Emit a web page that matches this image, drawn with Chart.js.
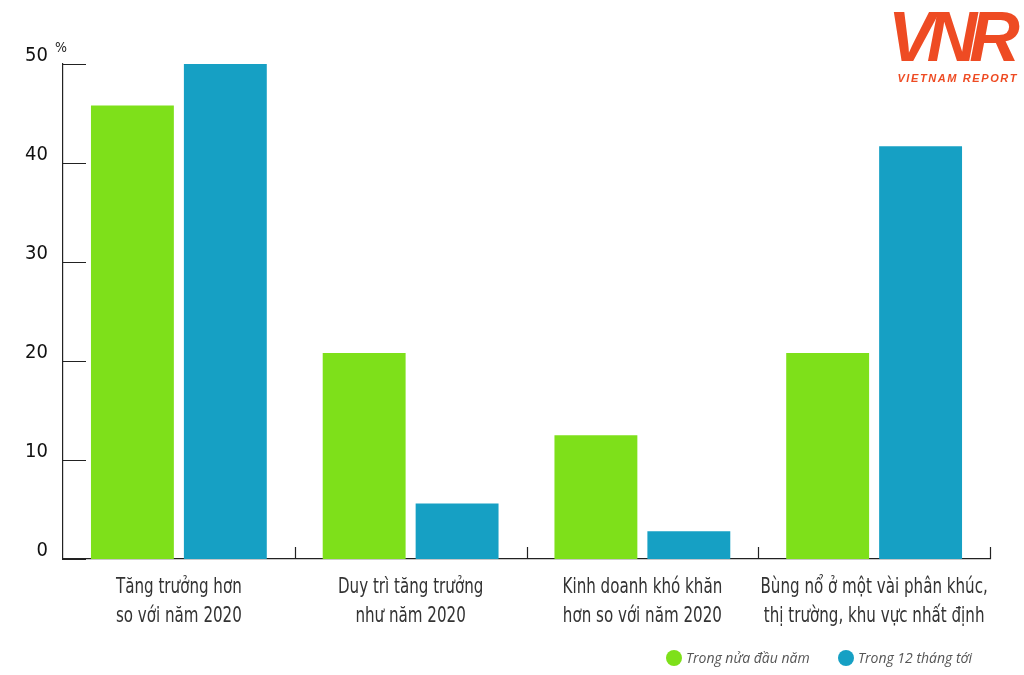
<!DOCTYPE html>
<html lang="vi">
<head>
<meta charset="utf-8">
<title>Triển vọng tăng trưởng</title>
<script src="https://cdn.jsdelivr.net/npm/chart.js@4.4.1/dist/chart.umd.min.js"></script>
<style>
    html, body { margin: 0; padding: 0; background: #fff; }
    #wrap { position: relative; width: 1024px; height: 675px; overflow: hidden; }
    #chart { position: absolute; left: 0; top: 0; }
    .logo { position: absolute; left: 884px; top: 0; width: 140px; color: #ee4b23; font-family: "Liberation Sans", Arial, sans-serif; }
    .logo .mark { font-size: 70px; font-weight: bold; font-style: italic; letter-spacing: -8px; line-height: 74px; text-align: center; padding-right: 8px; }
    .logo .name { font-size: 11px; font-weight: bold; font-style: italic; letter-spacing: 1.6px; text-align: right; padding-right: 6px; margin-top: -2px; }
    .legend { position: absolute; top: 648px; font-family: "Open Sans", "Noto Sans", sans-serif; font-style: italic; font-size: 14px; color: #555; display: flex; align-items: center; }
    .legend i { display: inline-block; width: 16px; height: 16px; border-radius: 50%; margin-right: 4px; }
</style>
</head>
<body>
<div id="wrap">
    <canvas id="chart" width="1024" height="675"></canvas>
    <div class="logo"><div class="mark">VNR</div><div class="name">VIETNAM REPORT</div></div>
    <div class="legend" style="left: 666px;"><i style="background:#7ee01a"></i>Trong nửa đầu năm</div>
    <div class="legend" style="left: 838px;"><i style="background:#16a0c4"></i>Trong 12 tháng tới</div>
</div>
<script>
// ===================================
// DATA
// ===================================
const categories = [
    ['Tăng trưởng hơn', 'so với năm 2020'],
    ['Duy trì tăng trưởng', 'như năm 2020'],
    ['Kinh doanh khó khăn', 'hơn so với năm 2020'],
    ['Bùng nổ ở một vài phân khúc,', 'thị trường, khu vực nhất định']
];
const firstHalf = [45.8, 20.8, 12.5, 20.8];
const next12Months = [50, 5.6, 2.8, 41.7];
const seriesNames = ['Trong nửa đầu năm', 'Trong 12 tháng tới'];
const yTicks = [0, 10, 20, 30, 40, 50];

const GREEN = '#7ee01a';
const BLUE = '#16a0c4';
const FONT = '"DejaVu Sans Condensed", "Liberation Sans", sans-serif';

// Inner tick marks, category separators, "%" unit and condensed category labels
const axisMarks = {
    id: 'axisMarks',
    afterDraw(chart) {
        const { ctx, chartArea, scales } = chart;
        const x = scales.x, y = scales.y;
        ctx.save();
        ctx.strokeStyle = '#222';
        ctx.lineWidth = 1.2;
        ctx.beginPath();
        // y axis ticks pointing inward
        yTicks.forEach(v => {
            const py = Math.round(y.getPixelForValue(v)) + 0.5;
            ctx.moveTo(chartArea.left, py);
            ctx.lineTo(chartArea.left + 23, py);
        });
        // separators between categories
        const half = (x.getPixelForValue(1) - x.getPixelForValue(0)) / 2;
        categories.forEach((c, i) => {
            const px = Math.round(x.getPixelForValue(i) + half) + 0.5;
            ctx.moveTo(px, chartArea.bottom);
            ctx.lineTo(px, chartArea.bottom - 12);
        });
        ctx.stroke();

        ctx.fillStyle = '#222';
        ctx.font = '14px ' + FONT;
        ctx.fillText('%', chartArea.left - 8, chartArea.top - 12);

        // category labels, squeezed to look like the narrow original font
        ctx.fillStyle = '#333';
        ctx.font = '21px ' + FONT;
        ctx.textAlign = 'center';
        ctx.textBaseline = 'middle';
        categories.forEach((lines, i) => {
            const px = x.getPixelForValue(i);
            lines.forEach((line, j) => {
                ctx.save();
                ctx.translate(px, chartArea.bottom + 29 + j * 29);
                ctx.scale(0.8, 1);
                ctx.fillText(line, 0, 0);
                ctx.restore();
            });
        });
        ctx.restore();
    }
};

new Chart(document.getElementById('chart'), {
    type: 'bar',
    data: {
        labels: categories,
        datasets: [
            { label: seriesNames[0], data: firstHalf, backgroundColor: GREEN },
            { label: seriesNames[1], data: next12Months, backgroundColor: BLUE }
        ]
    },
    options: {
        responsive: false,
        animation: false,
        layout: { padding: { top: 64, right: 34, left: 0, bottom: 0 } },
        categoryPercentage: 0.802,
        barPercentage: 0.892,
        plugins: {
            legend: { display: false },
            tooltip: { enabled: false }
        },
        scales: {
            x: {
                grid: { display: false },
                border: { color: '#222', width: 1.2 },
                ticks: { display: false },
                afterFit(scale) { scale.height = 116; }
            },
            y: {
                min: 0,
                max: 50,
                afterBuildTicks(scale) { scale.ticks = yTicks.map(v => ({ value: v })); },
                grid: { display: false },
                border: { color: '#222', width: 1.2 },
                ticks: {
                    color: '#111',
                    padding: 7,
                    labelOffset: -8,
                    font: { family: FONT, size: 20 }
                },
                afterFit(scale) { scale.width = 63; }
            }
        }
    },
    plugins: [axisMarks]
});
</script>
</body>
</html>
